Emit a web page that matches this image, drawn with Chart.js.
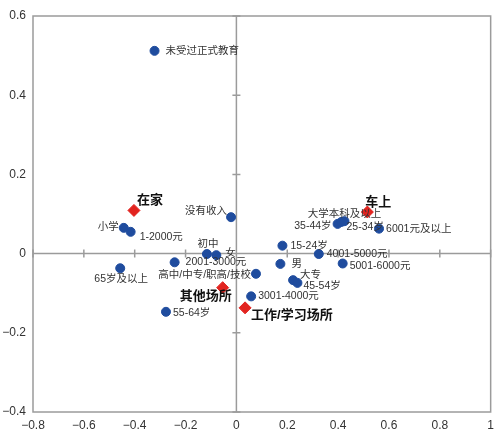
<!DOCTYPE html>
<html>
<head>
<meta charset="utf-8">
<script src="https://cdn.jsdelivr.net/npm/chart.js@4.4.1/dist/chart.umd.min.js"></script>
<style>
  body { margin: 0; background: #fff; }
  #wrap { width: 500px; height: 441px; }
</style>
</head>
<body>
<div id="wrap"><canvas id="chart" width="500" height="441"></canvas></div>
<script>
// Blue points: respondent attributes
const attrLabels = ['未受过正式教育', '没有收入', '小学', '1-2000元', '初中', '女', '2001-3000元',
    '65岁及以上', '高中/中专/职高/技校', '3001-4000元', '55-64岁', '15-24岁', '男', '大专',
    '45-54岁', '4001-5000元', '5001-6000元', '35-44岁', '大学本科及以上', '25-34岁', '6001元及以上'];
const attrX = [-0.322, -0.021, -0.443, -0.416, -0.116, -0.079, -0.243,
    -0.457, 0.077, 0.058, -0.277, 0.181, 0.173, 0.223,
    0.240, 0.324, 0.418, 0.398, 0.413, 0.425, 0.561];
const attrY = [0.512, 0.092, 0.065, 0.055, -0.001, -0.004, -0.022,
    -0.037, -0.051, -0.108, -0.147, 0.020, -0.026, -0.067,
    -0.074, -0.001, -0.025, 0.075, 0.080, 0.082, 0.063];

// Red diamonds: places
const placeLabels = ['在家', '车上', '其他场所', '工作/学习场所'];
const placeX = [-0.403, 0.515, -0.054, 0.034];
const placeY = [0.109, 0.105, -0.086, -0.137];

const xTicks = [-0.8, -0.6, -0.4, -0.2, 0, 0.2, 0.4, 0.6, 0.8, 1];
const yTicks = [-0.4, -0.2, 0, 0.2, 0.4, 0.6];

// label placement [dx, dy, align] in pixels, per point
const attrPlace = [[11, 0, 'left'], [-4, -6, 'right'], [-5, -1, 'right'], [9, 5, 'left'],
    [1, -10, 'center'], [9, -2, 'left'], [11, 0, 'left'], [1, 11, 'center'], [-5, 1, 'right'],
    [7, 0, 'left'], [7, 1, 'left'], [8, 0, 'left'], [11, 0, 'left'], [7, -5, 'left'],
    [6, 3, 'left'], [8, 0, 'left'], [7, 3, 'left'], [-6, 2, 'right'], [3, -8, 'center'],
    [2, 6, 'left'], [7, 0, 'left']];
const placePlace = [[3, -10, 'left'], [-2, -10, 'left'], [9, 9, 'right'], [6, 8, 'left']];

const FONT = '"Liberation Sans", "Noto Sans CJK SC", sans-serif';

function fmt(v) {
    const r = Math.round(v * 10) / 10;
    return String(r).replace('-', '\u2212');
}

// frame, zero axes with cross ticks
const axesPlugin = {
    id: 'axesPlugin',
    beforeDatasetsDraw(chart) {
        const ctx = chart.ctx;
        const a = chart.chartArea;
        const xs = chart.scales.x, ys = chart.scales.y;
        const x0 = xs.getPixelForValue(0), y0 = ys.getPixelForValue(0);
        ctx.save();
        ctx.strokeStyle = '#9b9b9b';
        ctx.lineWidth = 1.5;
        ctx.strokeRect(a.left, a.top, a.right - a.left, a.bottom - a.top);
        ctx.beginPath();
        ctx.moveTo(x0, a.top); ctx.lineTo(x0, a.bottom);
        ctx.moveTo(a.left, y0); ctx.lineTo(a.right, y0);
        xTicks.forEach(t => {
            const px = xs.getPixelForValue(t);
            ctx.moveTo(px, y0 - 4); ctx.lineTo(px, y0 + 4);
        });
        yTicks.forEach(t => {
            const py = ys.getPixelForValue(t);
            ctx.moveTo(x0 - 4, py); ctx.lineTo(x0 + 4, py);
        });
        ctx.stroke();
        ctx.restore();
    }
};

const labelPlugin = {
    id: 'labelPlugin',
    afterDatasetsDraw(chart) {
        const ctx = chart.ctx;
        ctx.save();
        ctx.textBaseline = 'middle';
        chart.data.datasets.forEach((ds, di) => {
            const meta = chart.getDatasetMeta(di);
            const texts = di === 0 ? attrLabels : placeLabels;
            const place = di === 0 ? attrPlace : placePlace;
            ctx.font = di === 0 ? '10.5px ' + FONT : 'bold 13px ' + FONT;
            ctx.fillStyle = di === 0 ? '#333333' : '#111111';
            meta.data.forEach((el, i) => {
                const p = place[i];
                ctx.textAlign = p[2];
                ctx.fillText(texts[i], el.x + p[0], el.y + p[1]);
            });
        });
        ctx.restore();
    }
};

const ctx = document.getElementById('chart').getContext('2d');
const myChart = new Chart(ctx, {
    type: 'scatter',
    data: {
        datasets: [{
            data: attrX.map((x, i) => ({ x: x, y: attrY[i] })),
            backgroundColor: '#1f4c9e',
            borderColor: '#1f4c9e',
            pointRadius: 4.5,
            pointStyle: 'circle'
        }, {
            data: placeX.map((x, i) => ({ x: x, y: placeY[i] })),
            backgroundColor: '#e2231f',
            borderColor: '#e2231f',
            pointRadius: 6,
            pointStyle: 'rectRot'
        }]
    },
    options: {
        responsive: false,
        animation: false,
        devicePixelRatio: 1,
        layout: { padding: { top: 16, right: 7, left: 0, bottom: 0 } },
        plugins: { legend: { display: false }, tooltip: { enabled: false } },
        scales: {
            x: {
                type: 'linear', min: -0.8, max: 1,
                grid: { display: false, drawTicks: false },
                border: { display: false },
                afterBuildTicks: s => { s.ticks = xTicks.map(v => ({ value: v })); },
                afterFit: s => { s.height = 29; },
                ticks: { callback: fmt, padding: 6, color: '#333', font: { family: FONT, size: 12 }, maxRotation: 0 }
            },
            y: {
                type: 'linear', min: -0.4, max: 0.6,
                grid: { display: false, drawTicks: false },
                border: { display: false },
                afterBuildTicks: s => { s.ticks = yTicks.map(v => ({ value: v })); },
                afterFit: s => { s.width = 33; },
                ticks: { callback: fmt, padding: 7, color: '#333', font: { family: FONT, size: 12 } }
            }
        }
    },
    plugins: [axesPlugin, labelPlugin]
});
</script>
</body>
</html>
